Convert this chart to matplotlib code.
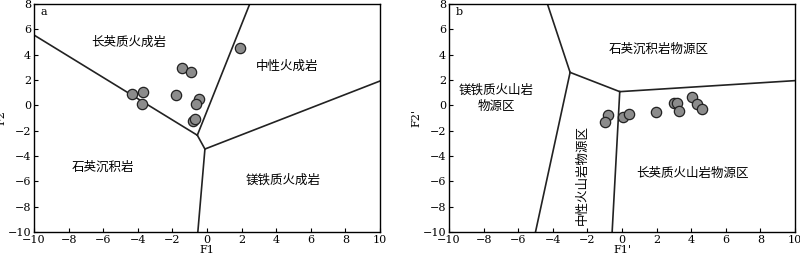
import numpy as np
import matplotlib
matplotlib.use("Agg")
import matplotlib.pyplot as plt

plt.rcParams["font.family"] = ["DejaVu Serif", "Noto Sans CJK SC"]
plt.rcParams["axes.unicode_minus"] = True

# ---- data: panel a (F1 vs F2) ----
a_x = [-4.32, -3.68, -3.74, -1.80, -1.42, -0.90, -0.45, -0.65, -0.82, -0.69, 1.91]
a_y = [0.87, 1.08, 0.08, 0.82, 2.95, 2.62, 0.50, 0.09, -1.22, -1.08, 4.54]

# boundary segments (x list, y list)
a_bounds = [
    ([-10, -0.56], [5.55, -2.36]),
    ([-0.56, 2.47], [-2.36, 8]),
    ([-0.56, -0.12], [-2.36, -3.45]),
    ([-0.12, 10], [-3.45, 1.92]),
    ([-0.12, -0.53], [-3.45, -10]),
]
a_fields = ["长英质火成岩", "中性火成岩", "石英沉积岩", "镁铁质火成岩"]
a_field_xy = [(-4.55, 4.95), (4.6, 3.1), (-6.0, -4.9), (4.4, -5.9)]

# ---- data: panel b (F1' vs F2') ----
b_x = [-0.80, -1.01, 0.05, 0.40, 1.94, 3.02, 3.17, 3.29, 4.04, 4.33, 4.62]
b_y = [-0.73, -1.28, -0.89, -0.65, -0.53, 0.17, 0.16, -0.46, 0.67, 0.08, -0.27]

b_bounds = [
    ([-4.31, -3.0], [8, 2.6]),
    ([-3.0, -0.13], [2.6, 1.08]),
    ([-0.13, 10], [1.08, 1.95]),
    ([-3.0, -5.0], [2.6, -10]),
    ([-0.13, -0.57], [1.08, -10]),
]
b_fields = ["石英沉积岩物源区", "镁铁质火山岩\n物源区", "长英质火山岩物源区", "中性火山岩物源区"]
b_field_xy = [(2.1, 4.42), (-7.25, 0.55), (4.1, -5.35), (-2.32, -5.5)]
b_field_rot = [0, 0, 0, 90]

fig = plt.figure(figsize=(8, 2.57), dpi=100, facecolor="white")
ax1 = fig.add_axes([34 / 800, 25 / 257, 346 / 800, 228 / 257])
ax2 = fig.add_axes([449 / 800, 25 / 257, 346 / 800, 228 / 257])


def style(ax, xlabel, ylabel, tag):
    ax.set_xlim(-10, 10)
    ax.set_ylim(-10, 8)
    ax.set_xticks(np.arange(-10, 11, 2))
    ax.set_yticks(np.arange(-10, 9, 2))
    ax.tick_params(direction="in", length=3, width=0.8, labelsize=8, pad=2,
                   top=False, right=False)
    for s in ax.spines.values():
        s.set_linewidth(1.0)
    ax.set_xlabel(xlabel, fontsize=8, labelpad=0)
    ax.set_ylabel(ylabel, fontsize=8, labelpad=1)
    ax.text(-9.6, 7.4, tag, fontsize=8, ha="left", va="center")


for xs, ys in a_bounds:
    ax1.plot(xs, ys, color="#222222", lw=1.2)
ax1.scatter(a_x, a_y, s=55, facecolor="#8c8c8c", edgecolor="#222222", lw=0.9, zorder=5)
for t, (x, y) in zip(a_fields, a_field_xy):
    ax1.text(x, y, t, fontsize=9, ha="center", va="center", family="Noto Sans CJK SC")
style(ax1, "F1", "F2", "a")

for xs, ys in b_bounds:
    ax2.plot(xs, ys, color="#222222", lw=1.2)
ax2.scatter(b_x, b_y, s=55, facecolor="#8c8c8c", edgecolor="#222222", lw=0.9, zorder=5)
for t, (x, y), r in zip(b_fields, b_field_xy, b_field_rot):
    ax2.text(x, y, t, fontsize=9, ha="center", va="center", rotation=r,
             linespacing=1.3, family="Noto Sans CJK SC")
style(ax2, "F1'", "F2'", "b")

fig.savefig("out.png", dpi=100, facecolor="white")
